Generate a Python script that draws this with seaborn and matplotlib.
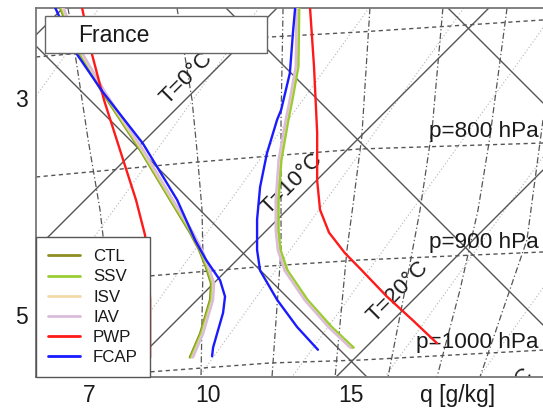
import numpy as np
import pandas as pd
import matplotlib
matplotlib.use("Agg")
import matplotlib.pyplot as plt
from matplotlib.patches import Rectangle
from matplotlib.ticker import NullLocator
import seaborn as sns

# ---------------- data ----------------
runs = ["CTL", "SSV", "ISV", "IAV", "PWP", "FCAP"]
run_colors = ["#8e8e22", "#9acd32", "#f2d9a8", "#d9bcd9", "#ff1a1a", "#1a1aff"]

# early profile (left bundle), q in g/kg
y_early = [2.17, 2.37, 2.59, 2.95, 3.48, 3.94, 4.24, 4.40, 4.56, 4.71, 4.86, 5.02, 5.17, 5.39]
ctl_early = [6.39, 6.55, 6.78, 7.28, 8.17, 8.94, 9.48, 9.74, 9.94, 10.09, 10.06, 9.91, 9.77, 9.48]
ssv_early = [6.41, 6.57, 6.80, 7.30, 8.19, 8.96, 9.51, 9.77, 9.97, 10.12, 10.09, 9.94, 9.80, 9.51]
isv_early = [6.44, 6.60, 6.83, 7.33, 8.22, 9.00, 9.55, 9.81, 10.01, 10.16, 10.13, 9.98, 9.84, 9.55]
iav_early = [6.46, 6.62, 6.85, 7.35, 8.25, 9.02, 9.57, 9.83, 10.03, 10.18, 10.15, 10.00, 9.86, 9.57]
y_pwp_early = [2.17, 2.56, 3.02, 3.57, 3.94, 4.26, 4.49, 4.86, 5.39]
pwp_early = [6.84, 7.03, 7.32, 7.76, 8.07, 8.29, 8.37, 8.42, 8.42]
y_fcap_early = [2.17, 2.59, 2.95, 3.42, 3.94, 4.31, 4.49, 4.68, 4.83, 4.98, 5.17, 5.30, 5.38]
fcap_early = [6.29, 6.72, 7.30, 8.24, 9.13, 9.63, 9.94, 10.36, 10.51, 10.45, 10.27, 10.15, 10.12]

# late profile (right bundle)
y_late = [2.17, 2.71, 3.02, 3.20, 3.57, 3.94, 4.22, 4.40, 4.59, 4.86, 5.11, 5.30]
ctl_late = [12.95, 12.92, 12.70, 12.56, 12.31, 12.21, 12.21, 12.28, 12.52, 13.25, 14.17, 15.06]
ssv_late = [13.00, 12.97, 12.75, 12.61, 12.36, 12.26, 12.26, 12.33, 12.58, 13.31, 14.24, 15.13]
isv_late = [12.92, 12.89, 12.67, 12.53, 12.28, 12.18, 12.18, 12.25, 12.49, 13.21, 14.12, 15.00]
iav_late = [12.90, 12.87, 12.65, 12.51, 12.26, 12.16, 12.16, 12.23, 12.47, 13.19, 14.10, 14.98]
y_pwp_late = [2.17, 2.71, 3.32, 3.76, 4.03, 4.24, 4.43, 4.57, 4.83, 5.05, 5.26]
pwp_late = [13.40, 13.55, 13.67, 13.67, 13.78, 14.13, 14.77, 15.39, 16.57, 17.78, 18.96]
y_fcap_late = [2.17, 2.40, 2.77, 3.11, 3.20, 3.51, 3.82, 4.12, 4.40, 4.59, 4.86, 5.11, 5.32]
fcap_late = [12.85, 12.77, 12.66, 12.35, 12.21, 11.86, 11.63, 11.53, 11.53, 11.63, 12.21, 12.92, 13.70]

# diagram background: isotherms (solid, rising), cross lines (solid, falling)
isotherm_T = [-10, 0, 10, 20, 30]
isotherm_q = [[5.919, 6.446], [5.919, 12.207], [7.686, 21.74], [14.41, 25.0]]
isotherm_y = [[2.419, 2.171], [4.392, 2.171], [5.571, 2.171], [5.571, 3.664]]
label_T_q = [9.40, 12.74, 17.08, 22.56]
label_T_y = [2.816, 3.793, 4.788, 5.774]
cross_q = [[5.919, 15.69], [10.54, 25.0], [19.52, 25.0]]
cross_y = [[2.521, 5.571], [2.171, 5.092], [2.171, 3.046]]

# isobars (dashed)
isobar_p = [700, 800, 900, 1000]
isobar_q = [[5.919, 11.964, 15.39, 25.0],
            [5.919, 9.373, 11.964, 15.39, 25.0],
            [5.919, 8.368, 11.964, 15.39, 25.0],
            [7.686, 8.368, 11.964, 15.39, 25.0]]
isobar_y = [[2.622, 2.438, 2.392, 2.281],
            [3.728, 3.599, 3.535, 3.470, 3.415],
            [4.696, 4.641, 4.548, 4.493, 4.419],
            [5.544, 5.525, 5.442, 5.415, 5.323]]
label_p_q = [18.55, 18.55, 17.92]
label_p_y = [3.313, 4.336, 5.249]

# dash-dot lines
mix_q = [[6.547, 6.69, 6.97, 7.23, 7.30],
         [9.126, 9.541, 9.68, 9.826, 9.856, 9.797],
         [12.417, 12.346, 12.346, 12.033],
         [15.82, 15.47, 15.10, 14.85, 14.37],
         [19.26, 18.71, 18.12, 17.40, 16.62],
         [22.79, 21.80, 21.13, 20.15, 18.96],
         [25.0, 23.99, 21.24]]
mix_y = [[2.171, 2.585, 3.387, 4.032, 4.281],
         [2.171, 3.018, 3.479, 4.032, 4.493, 5.571],
         [2.171, 3.203, 4.401, 5.571],
         [2.171, 3.359, 3.986, 4.401, 5.571],
         [2.171, 3.295, 4.032, 4.770, 5.571],
         [2.171, 3.359, 4.032, 4.770, 5.571],
         [3.203, 4.309, 5.571]]

# faint dotted lines
dot_q = [[7.21, 5.919], [11.59, 5.919], [15.78, 7.478], [20.36, 9.74],
         [25.0, 12.74], [25.0, 16.48], [25.0, 21.19]]
dot_y = [[2.171, 2.982], [2.171, 5.028], [2.171, 5.470], [2.171, 5.571],
         [2.355, 5.571], [3.544, 5.571], [4.751, 5.571]]

# ---------------- build long table ----------------
profiles = {
    "CTL": (ctl_early, y_early, ctl_late, y_late),
    "SSV": (ssv_early, y_early, ssv_late, y_late),
    "ISV": (isv_early, y_early, isv_late, y_late),
    "IAV": (iav_early, y_early, iav_late, y_late),
    "PWP": (pwp_early, y_pwp_early, pwp_late, y_pwp_late),
    "FCAP": (fcap_early, y_fcap_early, fcap_late, y_fcap_late),
}
frames = []
for run, (qa, ya, qb, yb) in profiles.items():
    frames.append(pd.DataFrame({"q": qa, "y": ya, "run": run, "seg": run + "_early"}))
    frames.append(pd.DataFrame({"q": qb, "y": yb, "run": run, "seg": run + "_late"}))
df = pd.concat(frames, ignore_index=True)

# ---------------- plot ----------------
sns.set_theme(style="white")
plt.rcParams["font.family"] = ["Liberation Sans", "DejaVu Sans"]
txt = "#1a1a1a"
big = 16.2

fig = plt.figure(figsize=(5.43, 4.12), dpi=100)
ax = fig.add_axes([36 / 543, 35 / 412, 507 / 543, 369 / 412])

for qs, ys in zip(dot_q, dot_y):
    ax.plot(qs, ys, color="#b5b5b5", lw=0.8, ls=(0, (1, 2)), zorder=1)
for qs, ys in zip(mix_q, mix_y):
    ax.plot(qs, ys, color="#555555", lw=0.9, ls=(0, (5, 2, 1, 2)), zorder=1)
for qs, ys in zip(isobar_q, isobar_y):
    ax.plot(qs, ys, color="#555555", lw=1.0, ls=(0, (3, 2.5)), zorder=1)
for qs, ys in zip(isotherm_q + cross_q, isotherm_y + cross_y):
    ax.plot(qs, ys, color="#555555", lw=1.0, zorder=1.5)

sns.lineplot(data=df, x="q", y="y", hue="run", hue_order=runs, palette=run_colors,
             units="seg", estimator=None, sort=False, lw=1.7, ax=ax, zorder=3)

fwd = lambda q: np.power(np.clip(q, 1e-6, None), 0.15)
inv = lambda u: np.power(np.clip(u, 1e-9, None), 1 / 0.15)
ax.set_xscale("function", functions=(fwd, inv))
ax.set_xlim(5.919, 25.0)
ax.set_ylim(5.571, 2.171)

ax.set_xticks([7, 10, 15, 20])
ax.set_xticklabels(["7", "10", "15", "q [g/kg]"])
ax.set_yticks([3, 5])
ax.set_yticklabels(["3", "5"])
ax.xaxis.set_minor_locator(NullLocator())
ax.yaxis.set_minor_locator(NullLocator())
ax.tick_params(axis="x", length=0, pad=5, labelsize=16.5, labelcolor=txt)
ax.tick_params(axis="y", length=0, pad=6, labelsize=16.5, labelcolor=txt)
ax.set_xlabel("")
ax.set_ylabel("")
for side in ["left", "bottom", "top"]:
    ax.spines[side].set_color("#777777")
    ax.spines[side].set_linewidth(1.3)
ax.spines["right"].set_visible(False)

# isotherm labels (the T=30 one is mostly clipped by the axes, as in the original)
for t, lq, ly in zip(isotherm_T[1:], label_T_q, label_T_y):
    ax.text(lq, ly, f"T={t}\u00b0C", rotation=45, rotation_mode="anchor",
            ha="center", va="center", fontsize=big, color=txt, clip_on=True, zorder=2)
# isobar labels
for p, lq, ly in zip(isobar_p[1:], label_p_q, label_p_y):
    ax.text(lq, ly, f"p={p} hPa", ha="left", va="center", fontsize=big, color=txt, zorder=2)

# title box
ax.add_patch(Rectangle((9 / 507, 324 / 369), 222 / 507, 37 / 369, transform=ax.transAxes,
                       facecolor="white", edgecolor="#666666", lw=1.0, zorder=6))
ax.text(42 / 507, 342 / 369, "France", transform=ax.transAxes, ha="left", va="center",
        fontsize=16.5, color=txt, zorder=7)

sns.move_legend(ax, "lower left", bbox_to_anchor=(0, 0), borderaxespad=0, title=None,
                frameon=True, fancybox=False, framealpha=1, edgecolor="#555555",
                fontsize=12.2, handlelength=1.9, handletextpad=0.75,
                labelspacing=0.3, borderpad=0.72)
leg = ax.get_legend()
leg.set_zorder(8)
leg.get_frame().set_linewidth(1.0)
for h in leg.legend_handles:
    h.set_linewidth(2.0)
for t in leg.get_texts():
    t.set_color(txt)

fig.savefig("out.png", dpi=100)
